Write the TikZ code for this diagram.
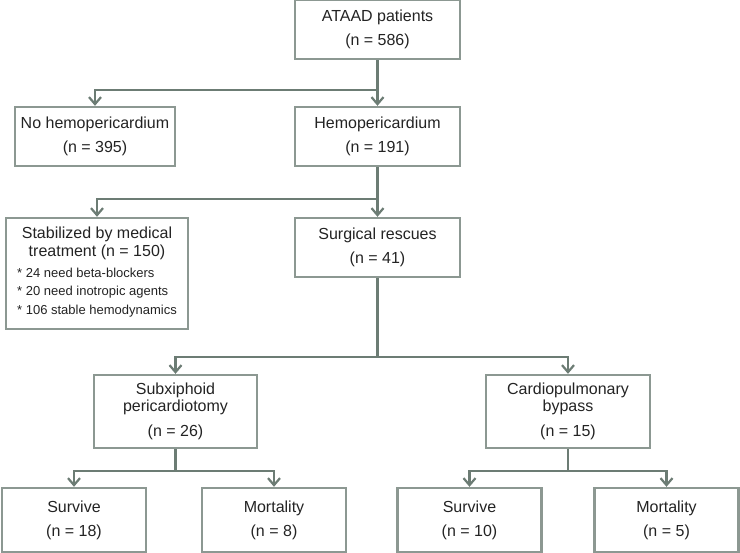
\documentclass[tikz,border=0pt]{standalone}
\usepackage{fontspec}
\setmainfont{Liberation Sans}
\usetikzlibrary{arrows.meta}

\definecolor{boxgray}{RGB}{140,152,146}
\definecolor{linegray}{RGB}{108,124,116}
\definecolor{txtgray}{RGB}{35,35,35}

\begin{document}
\begin{tikzpicture}[x=1pt, y=-1pt,
    every node/.style={draw=boxgray, line width=2.4pt, align=center, text=txtgray,
      font=\fontsize{16}{17}\selectfont, inner sep=0pt},
    wide/.style={minimum width=165pt, minimum height=59pt},
    small/.style={minimum width=144pt, minimum height=64pt},
    arr/.style={draw=linegray, line width=2.6pt, -{Straight Barb[length=7pt, width=12pt, line width=2.2pt]}},
    conn/.style={draw=linegray, line width=2.6pt}]
    \useasboundingbox (0,0) rectangle (740,553);

    \node[wide] (ataad) at (377.5, 29.5) {ATAAD patients\\[7pt](n = 586)};

    \node[minimum width=160pt, minimum height=59pt] (nohemo) at (95, 136.5) {No hemopericardium\\[7pt](n = 395)};
    \node[wide] (hemo) at (377.5, 136.5) {Hemopericardium\\[7pt](n = 191)};

    \node[minimum width=182pt, minimum height=111pt] (stab) at (97, 273.5)
      {Stabilized by medical\\[1pt]treatment (n = 150)\\[3pt]
       {\fontsize{13}{18.5}\selectfont\begin{tabular}{@{}l@{}}{*} 24 need beta-blockers\\{*} 20 need inotropic agents\\{*} 106 stable hemodynamics\end{tabular}}};
    \node[wide] (surg) at (377.5, 247.5) {Surgical rescues\\[7pt](n = 41)};

    \node[minimum width=163pt, minimum height=73pt] (subx) at (175.5, 411.5) {Subxiphoid\\pericardiotomy\\[8pt](n = 26)};
    \node[minimum width=164pt, minimum height=73pt] (cpb) at (568, 411.5) {Cardiopulmonary\\bypass\\[8pt](n = 15)};

    \node[small] (surv1) at (74, 520) {Survive\\[7pt](n = 18)};
    \node[small] (mort1) at (274, 520) {Mortality\\[7pt](n = 8)};
    \node[small] (surv2) at (469.5, 520) {Survive\\[7pt](n = 10)};
    \node[small] (mort2) at (666.5, 520) {Mortality\\[7pt](n = 5)};

    % junctions
    \coordinate (j1) at (377.5, 90);
    \coordinate (j2) at (377.5, 199);
    \coordinate (j3) at (377.5, 357);
    \coordinate (j4) at (175.5, 471);
    \coordinate (j5) at (568, 471);

    \draw[conn] (ataad.south) -- (j1);
    \draw[arr] (j1) -| (nohemo.north);
    \draw[arr] (j1) -- (hemo.north);

    \draw[conn] (hemo.south) -- (j2);
    \draw[arr] (j2) -| (stab.north);
    \draw[arr] (j2) -- (surg.north);

    \draw[conn] (surg.south) -- (j3);
    \draw[arr] (j3) -| (subx.north);
    \draw[arr] (j3) -| (cpb.north);

    \draw[conn] (subx.south) -- (j4);
    \draw[arr] (j4) -| (surv1.north);
    \draw[arr] (j4) -| (mort1.north);

    \draw[conn] (cpb.south) -- (j5);
    \draw[arr] (j5) -| (surv2.north);
    \draw[arr] (j5) -| (mort2.north);
\end{tikzpicture}
\end{document}
